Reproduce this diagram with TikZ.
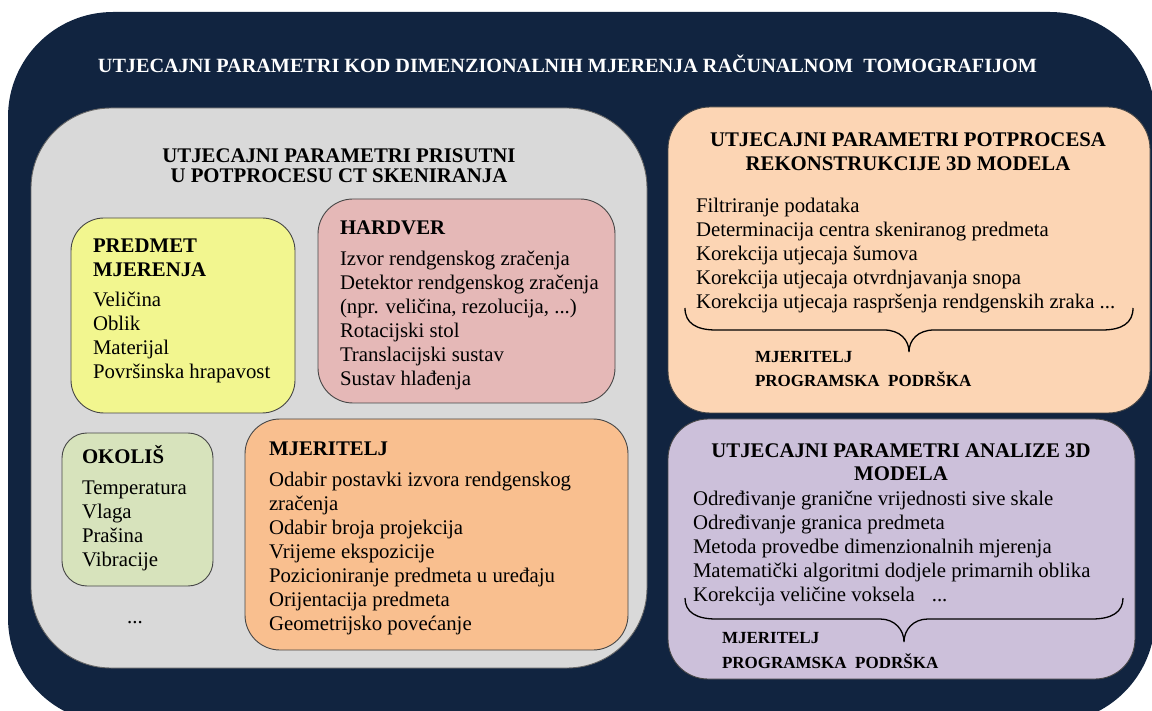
\documentclass[tikz,border=0pt]{standalone}
\usepackage{fontspec}
\setmainfont{Liberation Serif}
\definecolor{navy}{RGB}{17,36,64}
\definecolor{panelgray}{RGB}{217,217,217}
\definecolor{yellowbox}{RGB}{242,246,143}
\definecolor{pinkbox}{RGB}{229,184,183}
\definecolor{greenbox}{RGB}{215,227,188}
\definecolor{orangebox}{RGB}{249,191,143}
\definecolor{peachbox}{RGB}{252,213,180}
\definecolor{lavbox}{RGB}{204,192,218}
\definecolor{boxline}{RGB}{70,70,70}
\newcommand{\txtlines}[1]{\begin{tabular}[t]{@{}l@{}}#1\end{tabular}}
\newcommand{\ctrlines}[1]{\begin{tabular}[t]{@{}c@{}}#1\end{tabular}}
\begin{document}
\begin{tikzpicture}[x=1pt,y=-1pt,
  box/.style={rectangle, draw=boxline, line width=0.9pt, inner sep=0pt, outer sep=0pt},
  body/.style={inner sep=0pt, outer sep=0pt, anchor=base west, font=\fontsize{20.8}{24}\selectfont},
  hdr/.style={inner sep=0pt, outer sep=0pt, anchor=base west, font=\bfseries\fontsize{20.8}{24}\selectfont},
  chdr/.style={inner sep=0pt, outer sep=0pt, anchor=base, font=\bfseries\fontsize{20.8}{#1}\selectfont},
  small/.style={inner sep=0pt, outer sep=0pt, anchor=base west, font=\bfseries\fontsize{17}{#1}\selectfont},
  brace/.style={draw=black, line width=1.3pt}]
\useasboundingbox (0,0) rectangle (1152,711);
% outer panel
\node[rectangle, fill=navy, draw=none, rounded corners=105pt, minimum width=1147pt, minimum height=711pt] (outer) at (581.5,367.5) {};
\node[inner sep=0pt, anchor=base, text=white, font=\bfseries\fontsize{20.2}{24}\selectfont] (title) at (567.5,72.7)
  {UTJECAJNI PARAMETRI KOD DIMENZIONALNIH MJERENJA RAČUNALNOM\ \ TOMOGRAFIJOM};
% gray panel
\node[box, fill=panelgray, draw=gray!80!black, rounded corners=80pt, minimum width=616pt, minimum height=560pt] (scan) at (339,388) {};
\node[chdr=20] (scanhdr) at (339,163) {\ctrlines{UTJECAJNI PARAMETRI PRISUTNI\\U POTPROCESU CT SKENIRANJA}};
% inner boxes
\node[box, fill=yellowbox, rounded corners=33pt, minimum width=224pt, minimum height=195pt] (predmet) at (183,315.5) {};
\node[box, fill=pinkbox, rounded corners=35pt, minimum width=297pt, minimum height=204pt] (hardver) at (466.5,301) {};
\node[box, fill=greenbox, rounded corners=25pt, minimum width=151pt, minimum height=153pt] (okolis) at (137.5,509.5) {};
\node[box, fill=orangebox, rounded corners=35pt, minimum width=383pt, minimum height=231pt] (mjer) at (436.5,534.5) {};
% right panels
\node[box, fill=peachbox, rounded corners=42pt, minimum width=482pt, minimum height=306pt] (rekon) at (909,260) {};
\node[box, fill=lavbox, rounded corners=40pt, minimum width=467pt, minimum height=260pt] (analiza) at (901.5,549) {};
% texts: predmet
\node[hdr] (predmethdr) at (93,253) {\txtlines{PREDMET\\MJERENJA}};
\node[body] (predmettxt) at (93,307) {\txtlines{Veličina\\Oblik\\Materijal\\Površinska hrapavost}};
% hardver
\node[hdr] (hardverhdr) at (340,235) {HARDVER};
\node[body] (hardvertxt) at (340,266) {\txtlines{Izvor rendgenskog zračenja\\Detektor rendgenskog zračenja\\(npr. veličina, rezolucija, ...)\\Rotacijski stol\\Translacijski sustav\\Sustav hlađenja}};
% okolis
\node[hdr] (okolishdr) at (82,464) {OKOLIŠ};
\node[body] (okolistxt) at (82,494) {\txtlines{Temperatura\\Vlaga\\Prašina\\Vibracije}};
\node[body, anchor=base] (okolisdots) at (135,623) {...};
% mjeritelj
\node[hdr] (mjerhdr) at (269,455) {MJERITELJ};
\node[body] (mjertxt) at (269,486) {\txtlines{Odabir postavki izvora rendgenskog\\zračenja\\Odabir broja projekcija\\Vrijeme ekspozicije\\Pozicioniranje predmeta u uređaju\\Orijentacija predmeta\\Geometrijsko povećanje}};
% rekonstrukcija
\node[chdr=24] (rekonhdr) at (908,146.7) {\ctrlines{UTJECAJNI PARAMETRI POTPROCESA\\REKONSTRUKCIJE 3D MODELA}};
\node[body] (rekontxt) at (696,212.7) {\txtlines{Filtriranje podataka\\Determinacija centra skeniranog predmeta\\Korekcija utjecaja šumova\\Korekcija utjecaja otvrdnjavanja snopa\\Korekcija utjecaja raspršenja rendgenskih zraka ...}};
\node[small=24] (rekonsmall) at (755,363) {\txtlines{MJERITELJ\\PROGRAMSKA\ \ PODRŠKA}};
\draw[brace] (685,308) .. controls (685,323) and (696,330) .. (716,330) -- (884,330)
  .. controls (900,330) and (909,340) .. (909,352)
  .. controls (909,340) and (918,330) .. (934,330) -- (1102,330)
  .. controls (1122,330) and (1133,323) .. (1133,308);
% analiza
\node[chdr=23.7] (analizahdr) at (901,457) {\ctrlines{UTJECAJNI PARAMETRI ANALIZE 3D\\MODELA}};
\node[body] (analizatxt) at (693,505) {\txtlines{Određivanje granične vrijednosti sive skale\\Određivanje granica predmeta\\Metoda provedbe dimenzionalnih mjerenja\\Matematički algoritmi dodjele primarnih oblika\\Korekcija veličine voksela\hspace{17pt}...}};
\node[small=25] (analizasmall) at (722,643) {\txtlines{MJERITELJ\\PROGRAMSKA\ \ PODRŠKA}};
\draw[brace] (685,598) .. controls (685,612) and (696,619) .. (716,619) -- (880,619)
  .. controls (895,619) and (904,630) .. (904,642)
  .. controls (904,630) and (913,619) .. (928,619) -- (1092,619)
  .. controls (1112,619) and (1123,612) .. (1123,598);
\end{tikzpicture}
\end{document}
